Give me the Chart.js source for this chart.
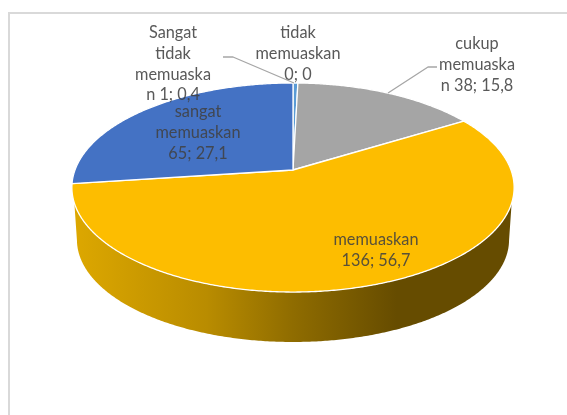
<!DOCTYPE html>
<html>
<head>
<meta charset="utf-8">
<title>Pie 3D</title>
<script src="https://cdn.jsdelivr.net/npm/chart.js@4"></script>
<style>
    html, body { margin: 0; padding: 0; background: #fff; }
    canvas { display: block; }
</style>
</head>
<body>
<canvas id="grafik" width="567" height="415"></canvas>
<script>
const kategori = ['Sangat tidak memuaskan', 'tidak memuaskan', 'cukup memuaskan', 'memuaskan', 'sangat memuaskan'];
const nilai = [1, 0, 38, 136, 65];
const warna = ['#5b9bd5', '#ed7d31', '#a5a5a5', '#fdbd00', '#4472c4'];
const barisLabel = [
    ['Sangat', 'tidak', 'memuaska', 'n 1; 0,4'],
    ['tidak', 'memuaskan', '0; 0'],
    ['cukup', 'memuaska', 'n 38; 15,8'],
    ['memuaskan', '136; 56,7'],
    ['sangat', 'memuaskan', '65; 27,1']
];

// tengah label (baris pertama) per kategori
const posisiLabel = [[173, 33], [298, 33], [477, 44], [376, 240], [198, 112]];
const garisPenunjuk = [
    [[223, 57], [233, 57], [294, 83]],
    [[437, 67], [428, 67], [388, 93]]
];

// perspektif pie 3D: lingkaran diproyeksikan jadi elips dengan pusat bergeser
const PERSPEKTIF = 0.1675;
const X_PUSAT = 293;
const ATAS = { a: 218, b: 101.6, y: 170 };
const BAWAH = { a: 213, b: 99.3, y: 222.7 };
const RAD = Math.PI / 180;

function titik(sudut, cincin) {
    const d = 1 - PERSPEKTIF * Math.sin(sudut);
    return [X_PUSAT + cincin.a * Math.cos(sudut) / d, cincin.y + cincin.b * Math.sin(sudut) / d];
}

function busur(ctx, dari, sampai, cincin) {
    const langkah = Math.max(2, Math.ceil(Math.abs(sampai - dari) / (0.5 * RAD)));
    for (let i = 0; i <= langkah; i++) {
        const p = titik(dari + (sampai - dari) * i / langkah, cincin);
        ctx.lineTo(p[0], p[1]);
    }
}

function gambarDinding(ctx, arcs) {
    const grad = ctx.createLinearGradient(77, 0, 509, 0);
    grad.addColorStop(0, '#dca700');
    grad.addColorStop(0.3, '#b98c00');
    grad.addColorStop(0.5, '#8f6c00');
    grad.addColorStop(0.74, '#664c00');
    grad.addColorStop(1, '#664c00');

    arcs.forEach(arc => {
        const mulaiAtas = Math.max(arc.startAngle, 18 * RAD);
        const akhirAtas = Math.min(arc.endAngle, 162 * RAD);
        if (akhirAtas <= mulaiAtas) return;
        const mulaiBawah = Math.max(arc.startAngle, 10 * RAD);
        const akhirBawah = Math.min(arc.endAngle, 170 * RAD);
        ctx.beginPath();
        busur(ctx, mulaiAtas, akhirAtas, ATAS);
        busur(ctx, akhirBawah, mulaiBawah, BAWAH);
        ctx.closePath();
        ctx.fillStyle = grad;
        ctx.fill();
    });
}

function gambarIrisan(ctx, arcs) {
    arcs.forEach((arc, i) => {
        if (arc.circumference === 0) return;
        ctx.beginPath();
        ctx.moveTo(X_PUSAT, ATAS.y);
        busur(ctx, arc.startAngle, arc.endAngle, ATAS);
        ctx.closePath();
        ctx.fillStyle = warna[i];
        ctx.fill();
        ctx.strokeStyle = '#ffffff';
        ctx.lineWidth = 1.3;
        ctx.lineJoin = 'round';
        ctx.stroke();
    });
}

function gambarLabel(ctx) {
    ctx.strokeStyle = '#a6a6a6';
    ctx.lineWidth = 1.3;
    garisPenunjuk.forEach(g => {
        ctx.beginPath();
        g.forEach((p, i) => i ? ctx.lineTo(p[0], p[1]) : ctx.moveTo(p[0], p[1]));
        ctx.stroke();
    });

    ctx.font = '16.3px Lato';
    ctx.fillStyle = 'rgba(64,64,64,0.87)';
    ctx.textAlign = 'center';
    ctx.textBaseline = 'middle';
    barisLabel.forEach((baris, i) => {
        baris.forEach((teks, j) => {
            ctx.fillText(teks, posisiLabel[i][0], posisiLabel[i][1] + j * 20.7);
        });
    });
}

const pie3d = {
    id: 'pie3d',
    beforeDatasetsDraw(chart) {
        const ctx = chart.ctx;
        const arcs = chart.getDatasetMeta(0).data;
        ctx.save();
        // bingkai abu-abu di kiri dan atas
        ctx.fillStyle = '#d9d9d9';
        ctx.fillRect(8, 12, 2, 403);
        ctx.fillRect(8, 12, 559, 2);
        gambarDinding(ctx, arcs);
        gambarIrisan(ctx, arcs);
        gambarLabel(ctx);
        ctx.restore();
        return false;
    }
};

new Chart(document.getElementById('grafik').getContext('2d'), {
    type: 'pie',
    data: {
        labels: kategori,
        datasets: [{ data: nilai, backgroundColor: warna, borderColor: '#ffffff', borderWidth: 1 }]
    },
    options: {
        responsive: false,
        animation: false,
        plugins: { legend: { display: false }, tooltip: { enabled: false } }
    },
    plugins: [pie3d]
});
</script>
</body>
</html>
